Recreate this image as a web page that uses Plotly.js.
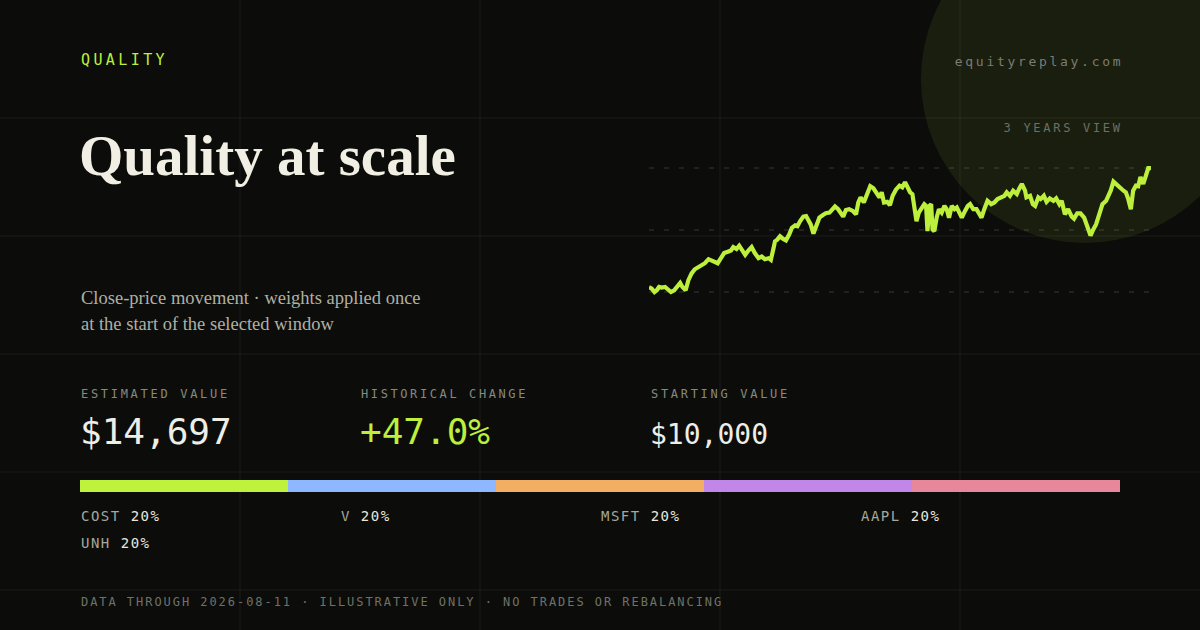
<!DOCTYPE html>
<html>
<head>
<meta charset="utf-8">
<script src="https://cdn.plot.ly/plotly-3.0.1.min.js"></script>
<style>
  html, body { margin: 0; padding: 0; background: #0c0d0a; }
  #chart { width: 1200px; height: 630px; }
</style>
</head>
<body>
<div id="chart"></div>
<script>
const W = 1200, H = 630;

// 3 years of close-price movement
const startDay = Date.UTC(2023, 7, 11);
const dayOffsets = [
  0, 6, 12, 17, 22, 28, 35, 42, 48, 55,
  63, 68, 73, 80, 86, 93, 100, 108, 115, 122,
  130, 137, 144, 150, 157, 164, 172, 179, 184, 191,
  197, 204, 210, 217, 224, 231, 239, 246, 253, 261,
  266, 272, 275, 280, 286, 293, 299, 306, 312, 319,
  324, 330, 337, 343, 348, 353, 359, 365, 372, 379,
  386, 394, 400, 406, 413, 419, 424, 430, 437, 445,
  452, 457, 462, 469, 477, 483, 490, 497, 503, 508,
  513, 520, 526, 532, 539, 547, 553, 559, 565, 570,
  575, 579, 584, 589, 595, 601, 605, 608, 612, 616,
  619, 623, 628, 633, 639, 645, 650, 655, 661, 667,
  672, 677, 683, 690, 696, 701, 708, 715, 720, 726,
  732, 739, 747, 754, 761, 768, 776, 781, 788, 795,
  803, 808, 814, 821, 824, 832, 838, 843, 850, 855,
  862, 868, 875, 883, 889, 896, 901, 908, 915, 923,
  928, 935, 942, 950, 955, 960, 964, 970, 976, 983,
  990, 998, 1003, 1008, 1014, 1021, 1028, 1036, 1041, 1046,
  1052, 1057, 1063, 1068, 1073, 1079, 1085, 1090, 1093, 1096
];
const portfolioValues = [
  10000, 9947, 9810, 9879, 10012, 9988, 10012, 9907, 9810, 9879,
  10081, 10174, 10012, 9879, 10284, 10555, 10717, 10822, 10891, 10960,
  11122, 11065, 11025, 10960, 11162, 11365, 11418, 11470, 11608, 11527,
  11661, 11499, 11296, 11470, 11608, 11365, 11162, 11227, 11122, 11162,
  11094, 11567, 11835, 11904, 12037, 11932, 11875, 12106, 12377, 12471,
  12442, 12645, 12823, 12847, 12645, 12511, 12147, 12442, 12782, 12876,
  12957, 12985, 13119, 13228, 13119, 12985, 12823, 13090, 13119, 13050,
  12916, 13390, 13592, 13390, 13795, 14038, 13957, 13795, 13592, 13795,
  13390, 13414, 13281, 13657, 13900, 14062, 13997, 14200, 13997, 13795,
  13726, 13187, 12645, 12985, 13187, 13321, 13252, 12240, 13252, 13321,
  12309, 12240, 12782, 13119, 12985, 13252, 13119, 12782, 13252, 13119,
  13187, 12985, 12782, 13050, 13252, 13321, 13119, 13119, 12985, 12782,
  13119, 13455, 13321, 13390, 13524, 13592, 13657, 13795, 13657, 13860,
  13726, 13929, 14131, 13860, 13592, 13657, 13321, 13252, 13592, 13524,
  13657, 13414, 13552, 13455, 13552, 13321, 13455, 12916, 13119, 12823,
  12742, 12957, 12957, 12782, 12552, 12309, 12066, 12309, 12511, 12916,
  13321, 13455, 13633, 13860, 14224, 14091, 13997, 13860, 13795, 13552,
  13119, 13860, 14062, 14038, 14402, 14131, 14467, 14767, 14767, 14697
];

const tickers = ['COST', 'V', 'MSFT', 'AAPL', 'UNH'];
const weights = [20, 20, 20, 20, 20];
const tickerColors = ['#bef23c', '#8db8ff', '#f2ae63', '#c286e8', '#e8879b'];

const lime = '#bdf03c';
const mono = '"DejaVu Sans Mono", monospace';
const serif = '"Liberation Serif", serif';

function px(x) { return x / W; }
function py(y) { return 1 - y / H; }

let dates = dayOffsets.map(d => new Date(startDay + d * 86400000).toISOString().slice(0, 10));

let vMin = Math.min(...portfolioValues);
let vMax = Math.max(...portfolioValues);
let pad = (vMax - vMin) * 0.05;

let startValue = portfolioValues[0];
let endValue = portfolioValues[portfolioValues.length - 1];
let change = (endValue / startValue - 1) * 100;
let money = v => '$' + Math.round(v).toLocaleString('en-US');

// value line
let lineTrace = {
  type: 'scatter',
  mode: 'lines',
  x: dates,
  y: portfolioValues,
  line: {color: lime, width: 4.2, shape: 'linear'},
  hoverinfo: 'skip'
};

// allocation strip
let barTraces = tickers.map((t, i) => ({
  type: 'bar',
  orientation: 'h',
  x: [weights[i]],
  y: ['mix'],
  xaxis: 'x2',
  yaxis: 'y2',
  width: 1,
  marker: {color: tickerColors[i], line: {width: 0}},
  hoverinfo: 'skip'
}));

// annotations + matching letter spacing
let annotations = [];
let spacing = [];
function note(text, x, y, size, color, family, opts, ls) {
  opts = opts || {};
  let anchor = opts.xanchor || 'left';
  annotations.push({
    text: text,
    xref: 'paper', yref: 'paper',
    x: px(x), y: py(y),
    xanchor: anchor, yanchor: 'middle',
    align: anchor,
    showarrow: false,
    borderpad: 0,
    font: {size: size, color: color, family: family, weight: opts.weight || 400}
  });
  spacing.push(ls || 0);
}

note('QUALITY', 80, 60.5, 15, lime, mono, {}, 3.4);
note('equityreplay.com', 1124, 62, 13, '#7a7d72', mono, {xanchor: 'right'}, 2.7);
note('3 YEARS VIEW', 1124, 128, 12, '#6c6f65', mono, {xanchor: 'right'}, 2.7);
note('Quality at scale', 78, 155, 57, '#f1eee3', serif, {weight: 700}, 0);
note('Close-price movement · weights applied once', 80, 298, 18.5, '#b0b0a4', serif, {}, 0);
note('at the start of the selected window', 80, 324, 18.5, '#b0b0a4', serif, {}, 0);

note('ESTIMATED VALUE', 80, 394, 12, '#868980', mono, {}, 2.7);
note('HISTORICAL CHANGE', 360, 394, 12, '#868980', mono, {}, 2.6);
note('STARTING VALUE', 650, 394, 12, '#868980', mono, {}, 2.7);
note(money(endValue), 79, 431.5, 36, '#efeee6', mono, {}, 0);
note('+' + change.toFixed(1) + '%', 359, 431.5, 36, lime, mono, {}, 0);
note(money(startValue), 649, 434, 28, '#efeee6', mono, {}, 0);

tickers.forEach((t, i) => {
  let col = i % 4, row = Math.floor(i / 4);
  note('<span style="color:#a6a79d">' + t + '</span> ' + weights[i] + '%',
    80 + col * 260, 515.5 + row * 27.5, 14, '#e8e7de', mono, {}, 1.5);
});

note('DATA THROUGH ' + dates[dates.length - 1] + ' · ILLUSTRATIVE ONLY · NO TRADES OR REBALANCING',
  80, 602, 12, '#6f7268', mono, {}, 1.95);

// backdrop: faint page grid and the glow disc
let shapes = [];
[240, 480, 720, 960].forEach(x => shapes.push({
  type: 'line', xref: 'paper', yref: 'paper', x0: px(x), x1: px(x), y0: 0, y1: 1,
  line: {color: 'rgba(255,255,255,0.045)', width: 1.5}, layer: 'below'
}));
[118, 236, 354, 472, 590].forEach(y => shapes.push({
  type: 'line', xref: 'paper', yref: 'paper', x0: 0, x1: 1, y0: py(y), y1: py(y),
  line: {color: 'rgba(255,255,255,0.045)', width: 1.5}, layer: 'below'
}));
shapes.push({
  type: 'circle', xref: 'paper', yref: 'paper',
  x0: px(921), x1: px(1249), y0: py(243), y1: py(-85),
  fillcolor: 'rgba(190,240,60,0.08)', line: {width: 0}, layer: 'below'
});

let layout = {
  width: W,
  height: H,
  margin: {l: 0, r: 0, t: 0, b: 0},
  paper_bgcolor: '#0c0d0a',
  plot_bgcolor: 'rgba(0,0,0,0)',
  showlegend: false,
  barmode: 'stack',
  bargap: 0,
  xaxis: {
    domain: [px(649), px(1151)],
    range: [dates[0], dates[dates.length - 1]],
    type: 'date',
    showgrid: false, zeroline: false, showticklabels: false, ticks: ''
  },
  yaxis: {
    domain: [py(298.2), py(161.8)],
    range: [vMin - pad, vMax + pad],
    tickvals: [vMin, (vMin + vMax) / 2, vMax],
    showticklabels: false, ticks: '', zeroline: false,
    showgrid: true, gridcolor: 'rgba(255,255,255,0.09)', gridwidth: 1.5, griddash: '5px,10px'
  },
  xaxis2: {
    domain: [px(80), px(1120)], anchor: 'y2',
    range: [0, weights.reduce((a, b) => a + b, 0)],
    visible: false
  },
  yaxis2: {
    domain: [py(492), py(480)], anchor: 'x2',
    range: [-0.5, 0.5],
    visible: false
  },
  shapes: shapes,
  annotations: annotations
};

Plotly.newPlot('chart', barTraces.concat([lineTrace]), layout, {staticPlot: true, displayModeBar: false})
  .then(gd => {
    gd.querySelectorAll('.annotation').forEach(g => {
      let s = spacing[+g.getAttribute('data-index')];
      if (s) g.querySelectorAll('text').forEach(t => { t.style.letterSpacing = s + 'px'; });
    });
  });
</script>
</body>
</html>
